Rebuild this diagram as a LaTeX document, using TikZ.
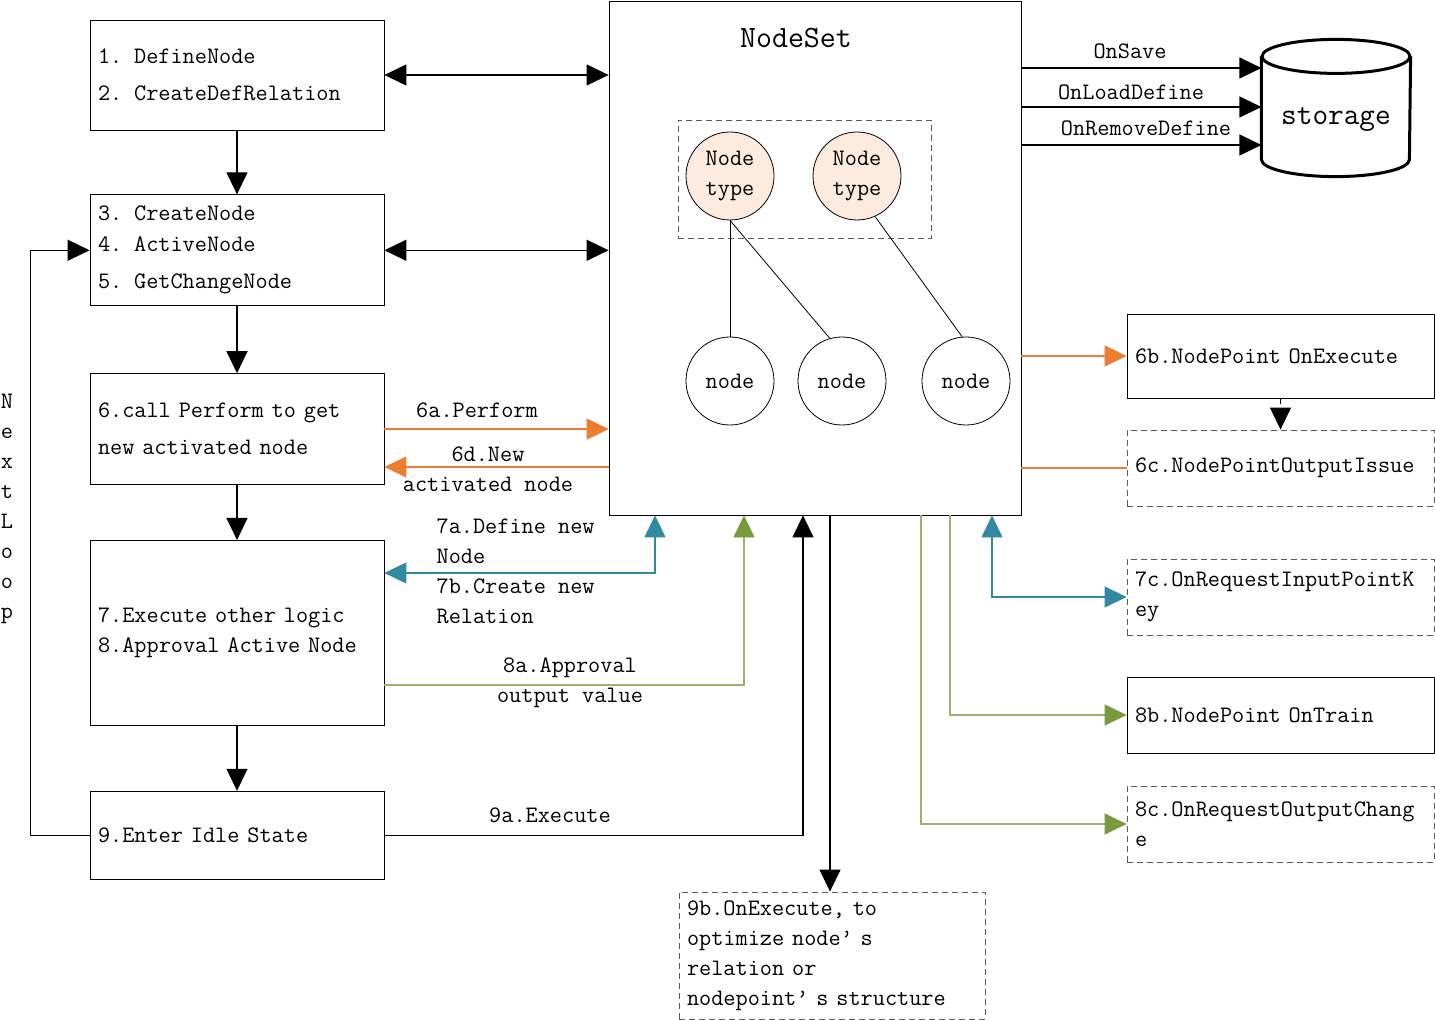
\documentclass[tikz,border=0pt]{standalone}
\usepackage{fontspec}
\usepackage{tikz}
\usetikzlibrary{positioning}
\usetikzlibrary{arrows.meta, shapes, calc}

\definecolor{ntfill}{RGB}{252,235,222}
\definecolor{orangeln}{RGB}{237,125,49}
\definecolor{tealln}{RGB}{49,137,162}
\definecolor{greenln}{RGB}{160,174,110}
\definecolor{greentip}{RGB}{122,152,62}
\definecolor{dashgray}{RGB}{90,90,90}

\begin{document}
\begin{tikzpicture}[x=0.5pt, y=-0.5pt, >={Triangle[length=11pt,width=10.5pt]}, line width=0.6pt,
        font=\ttfamily\fontsize{11.8}{18.5}\selectfont]%

            \tikzset{stepbox/.style = {rectangle, draw, thin, minimum width = 147pt, text width = 139pt, align = left, inner sep = 4pt}}
            \tikzset{outbox/.style = {rectangle, draw, thin, minimum width = 153.5pt, text width = 145.5pt, align = left, inner sep = 4pt, minimum height = 38pt}}
            \tikzset{dashbox/.style = {outbox, draw = dashgray, dash pattern = on 3pt off 2pt}}
            \tikzset{ntype/.style = {circle, thin, draw, fill = ntfill, minimum size = 44pt, inner sep = 0pt, align = center, font = \ttfamily\fontsize{11.8}{15}\selectfont}}
            \tikzset{inst/.style = {circle, thin, draw, minimum size = 44pt, inner sep = 0pt}}
            \tikzset{lbl/.style = {inner sep = 0pt, align = center, font = \ttfamily\fontsize{11.8}{15}\selectfont}}
            \tikzset{orangearr/.style = {draw = orangeln, ->, >={Triangle[length=11pt,width=10.5pt,color=orangeln]}}}
            \tikzset{tealarr/.style = {draw = tealln, <->, >={Triangle[length=11pt,width=10.5pt,color=tealln]}}}
            \tikzset{greenarr/.style = {draw = greenln, ->, >={Triangle[length=11pt,width=10.5pt,color=greentip]}}}

            \useasboundingbox (0,0) rectangle (1435,1020);

            %% Steps on the left
            \node [stepbox, minimum height = 55pt] (step1) at (237,75) {1. DefineNode\\2. CreateDefRelation};
            \node [stepbox, minimum height = 55.5pt, below = 32pt of step1] (step2) {3. CreateNode\\[-3pt]4. ActiveNode\\5. GetChangeNode};
            \node [stepbox, minimum height = 55.5pt, below = 33.5pt of step2] (step3) {6.call Perform to get\\new activated node};
            \node [stepbox, minimum height = 92.5pt, below = 27.5pt of step3, font = \ttfamily\fontsize{11.8}{15}\selectfont] (step4) {7.Execute other logic\\8.Approval Active Node};
            \node [stepbox, minimum height = 44pt, below = 32.5pt of step4] (step5) {9.Enter Idle State};

            \draw[->] (step1) -- (step2);
            \draw[->] (step2) -- (step3);
            \draw[->] (step3) -- (step4);
            \draw[->] (step4) -- (step5);

            %% Next loop
            \draw[->] (step5.west) -- ++(-59,0) coordinate (loop) |- (step2.west);
            \node [lbl] (nextloop) at (7,509) {N\\e\\x\\t\\L\\o\\o\\p};

            %% NodeSet
            \node [rectangle, draw, thin, minimum width = 206pt, minimum height = 257pt] (nodeset) at (815,258) {};
            \node [inner sep = 0pt, font = \ttfamily\fontsize{15.5}{18}\selectfont] (nstitle) at (796,38) {NodeSet};
            \node [rectangle, draw = dashgray, thin, dash pattern = on 3pt off 2pt, minimum width = 126.5pt, minimum height = 59pt] (types) at (804.5,179) {};
            \node [ntype] (nt1) at (730,176) {Node\\type};
            \node [ntype] (nt2) at (857,176) {Node\\type};
            \node [inst] (n1) at (730,381) {node};
            \node [inst] (n2) at (842,381) {node};
            \node [inst] (n3) at (966,381) {node};
            \draw[thin] (nt1.south) -- (n2.106);
            \draw[thin] (nt1.south) -- (n1.north);
            \draw[thin] (nt2.-66) -- (n3.95);

            %% Storage
            \node [rectangle, minimum width = 74pt, minimum height = 51pt, inner sep = 0pt, font = \ttfamily\fontsize{15.2}{18}\selectfont] (storage) at (1336,108) {};
            \draw[line width = 1.5pt] (storage.north) ellipse [x radius = 37pt, y radius = 8.5pt];
            \draw[line width = 1.5pt] (storage.north west) -- (storage.south west)
                arc [start angle = 180, end angle = 360, x radius = 37pt, y radius = 8.5pt] -- (storage.north east);
            \node [inner sep = 0pt, font = \ttfamily\fontsize{15.2}{18}\selectfont] (storagetxt) at (1336,120) {storage};
            \draw[->] (nodeset.east |- 0,68) -- (storage.west |- 0,68);
            \draw[->] (nodeset.east |- 0,107) -- (storage.west |- 0,107);
            \draw[->] (nodeset.east |- 0,145) -- (storage.west |- 0,145);
            \node [lbl] (onsave) at (1130,51) {OnSave};
            \node [lbl] (onload) at (1131,92) {OnLoadDefine};
            \node [lbl] (onremove) at (1146,128) {OnRemoveDefine};

            %% Left connectors
            \draw[<->] (step1.east) -- (step1.east -| nodeset.west);
            \draw[<->] (step2.east) -- (step2.east -| nodeset.west);
            \draw[orangearr] (step3.east) -- (step3.east -| nodeset.west);
            \draw[orangearr] (nodeset.west |- 0,467) -- (step3.east |- 0,467);
            \node [lbl] (perform) at (477,410) {6a.Perform};
            \node [lbl] (newact) at (488,469) {6d.New\\activated node};
            \draw[tealarr] (step4.east |- 0,573) -| (nodeset.south -| 655,0);
            \node [lbl, align = left, anchor = west] (defnew) at (436,571) {7a.Define new\\Node\\7b.Create new\\Relation};
            \draw[greenarr] (step4.east |- 0,685) -| (nodeset.south -| 744,0);
            \node [lbl] (approval) at (570,683) {8a.Approval\\output value};
            \draw[->] (step5.east) -| (nodeset.south -| 803,0);
            \node [lbl] (execute) at (550,815) {9a.Execute};

            %% Outputs on the right and below
            \node [outbox, minimum height = 42pt] (pt6b) at (1280.5,356) {6b.NodePoint OnExecute};
            \node [dashbox] (pt6c) at (1280.5,468) {6c.NodePointOutputIssue};
            \node [dashbox, font = \ttfamily\fontsize{11.8}{15}\selectfont] (pt7c) at (1280.5,597) {7c.OnRequestInputPointK\\ey};
            \node [outbox] (pt8b) at (1280.5,715) {8b.NodePoint OnTrain};
            \node [dashbox, font = \ttfamily\fontsize{11.8}{15}\selectfont] (pt8c) at (1280.5,824) {8c.OnRequestOutputChang\\e};
            \node [dashbox, minimum width = 153pt, text width = 145pt, minimum height = 63.5pt, font = \ttfamily\fontsize{11.8}{15}\selectfont] (pt9b) at (832,955.5) {9b.OnExecute, to\\optimize node’ s\\relation or\\nodepoint’ s structure};

            \draw[orangearr] (nodeset.east |- pt6b.west) -- (pt6b.west);
            \draw[draw = orangeln] (nodeset.east |- pt6c.west) -- (pt6c.west);
            \draw[->, dashed] (pt6b.south) -- (pt6c.north);
            \draw[tealarr] (nodeset.south -| 992,0) |- (pt7c.west);
            \draw[greenarr] (nodeset.south -| 950,0) |- (pt8b.west);
            \draw[greenarr] (nodeset.south -| 921,0) |- (pt8c.west);
            \draw[->] (nodeset.south -| 830,0) -- (pt9b.north -| 830,0);

\end{tikzpicture}
\end{document}
